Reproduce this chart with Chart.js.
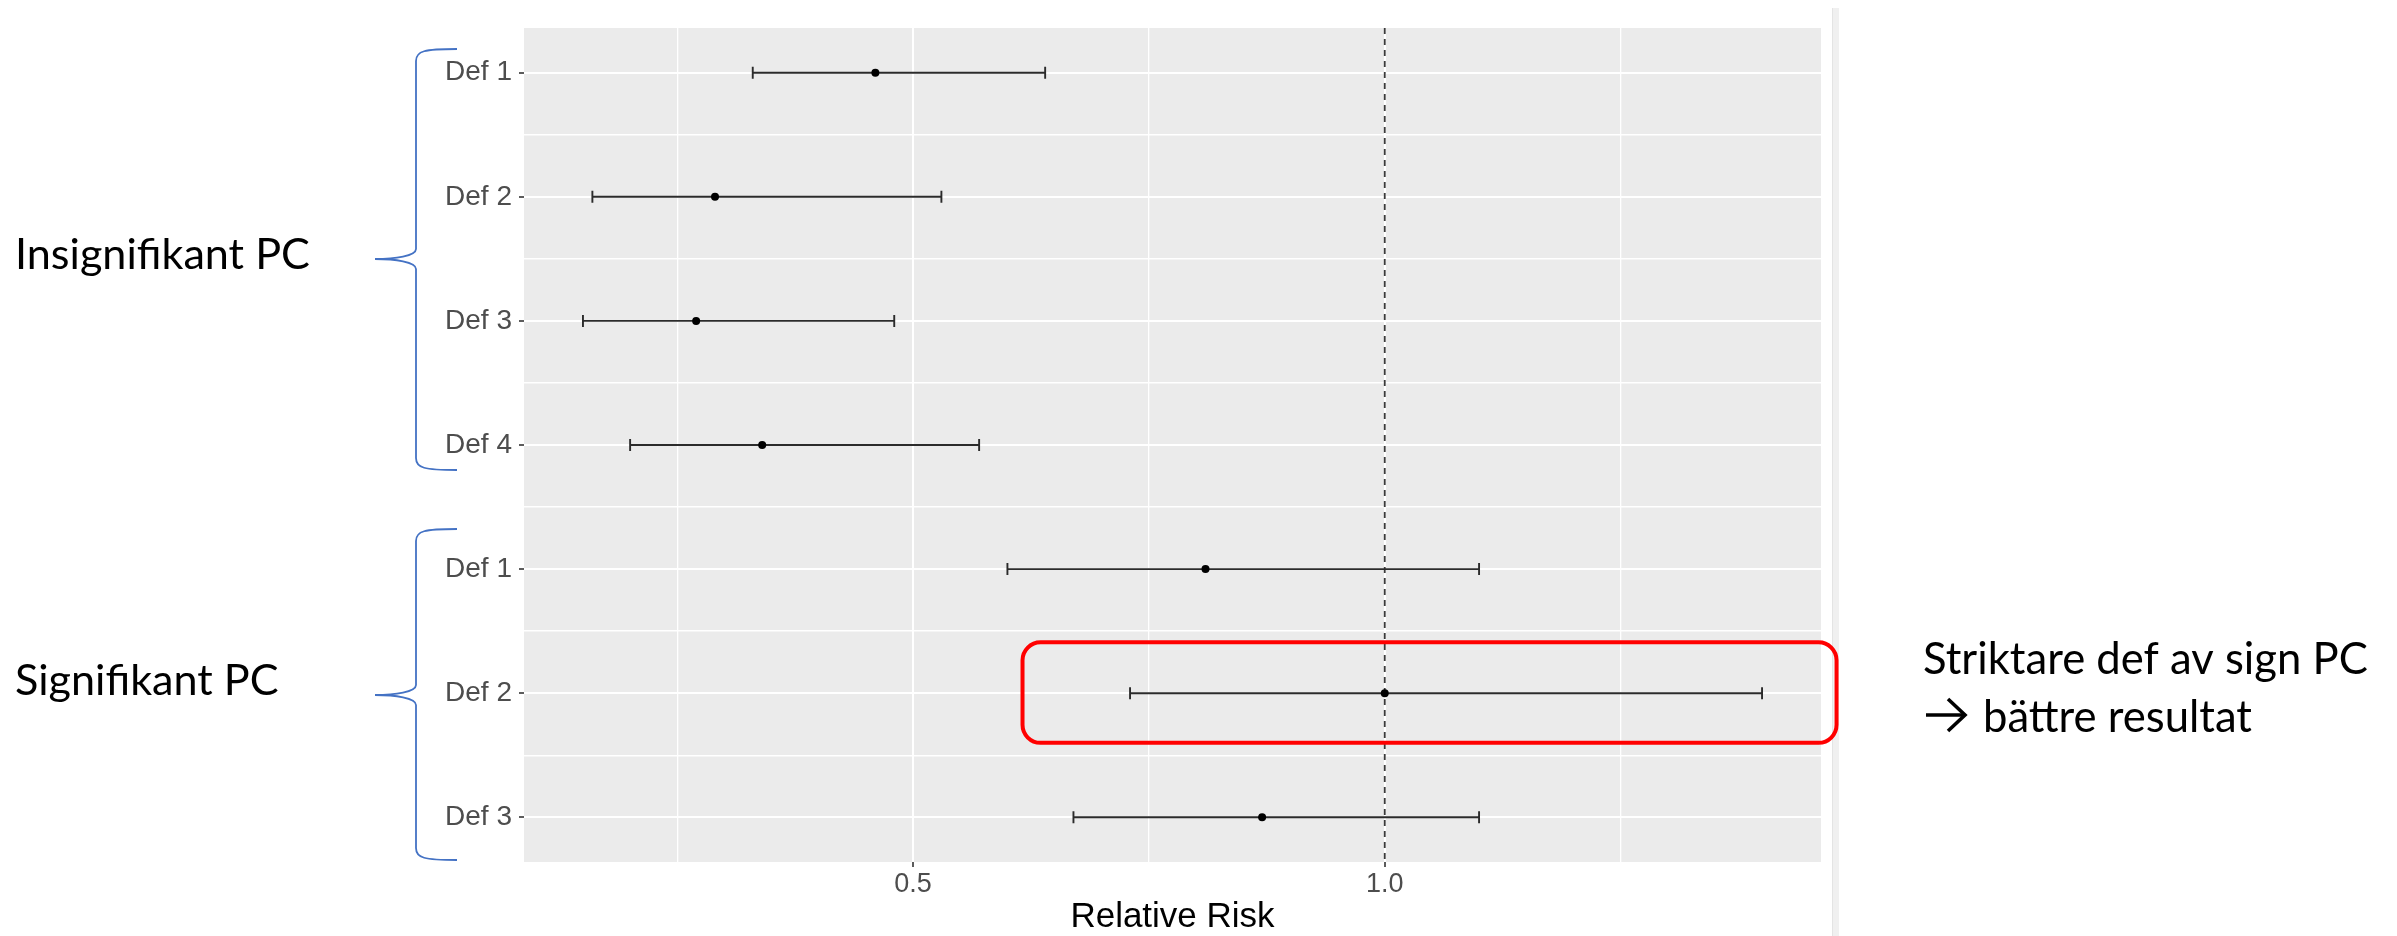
<!DOCTYPE html>
<html>
<head>
<meta charset="utf-8">
<script src="https://cdn.jsdelivr.net/npm/chart.js@4.4.1/dist/chart.umd.min.js"></script>
<style>
  html, body { margin: 0; padding: 0; background: #ffffff; }
  #wrap { width: 2397px; height: 936px; position: relative; }
  canvas { display: block; }
</style>
</head>
<body>
<div id="wrap"><canvas id="c" width="2397" height="936"></canvas></div>
<script>
// ---- data ----
const categories = ['Def 1', 'Def 2', 'Def 3', 'Def 4', 'Def 1', 'Def 2', 'Def 3'];
const estimates  = [0.46, 0.29, 0.27, 0.34, 0.81, 1.00, 0.87];
const lowerCI    = [0.33, 0.16, 0.15, 0.20, 0.60, 0.73, 0.67];
const upperCI    = [0.64, 0.53, 0.48, 0.57, 1.10, 1.40, 1.10];
const xMajorTicks = [0.5, 1.0];
const xMinorTicks = [0.25, 0.75, 1.25];
const refValue = 1.0;
const groupLabels = ['Insignifikant PC', 'Signifikant PC'];
const noteLines = ['Striktare def av sign PC', 'bättre resultat'];
const highlightIndex = 5;

// ---- derived scale range (ggplot-like 5% expansion) ----
const dMin = Math.min(...lowerCI), dMax = Math.max(...upperCI);
const xExp = (dMax - dMin) * 0.05;
const X_MIN = dMin - xExp, X_MAX = dMax + xExp;
const Y_PAD = 0.36;

const FONT = "'Liberation Sans', Arial, sans-serif";
const ANN_FONT = "Lato, 'Open Sans', sans-serif";

const panelBg = {
  id: 'panelBg',
  beforeDraw(chart) {
    const { ctx, chartArea: a } = chart;
    ctx.save();
    ctx.fillStyle = '#EBEBEB';
    ctx.fillRect(a.left, a.top, a.right - a.left, a.bottom - a.top);
    ctx.restore();
  }
};

const errorBars = {
  id: 'errorBars',
  beforeDatasetsDraw(chart) {
    const { ctx, chartArea: a, scales: { x, y } } = chart;
    ctx.save();
    // reference dashed line
    const rx = x.getPixelForValue(refValue);
    ctx.strokeStyle = '#3a3a3a';
    ctx.lineWidth = 1.8;
    ctx.setLineDash([6, 5]);
    ctx.beginPath();
    ctx.moveTo(rx, a.top);
    ctx.lineTo(rx, a.bottom);
    ctx.stroke();
    ctx.setLineDash([]);
    // CI bars
    ctx.strokeStyle = '#2b2b2b';
    ctx.lineWidth = 1.9;
    lowerCI.forEach((lo, i) => {
      const yy = y.getPixelForValue(i);
      const x0 = x.getPixelForValue(lo);
      const x1 = x.getPixelForValue(upperCI[i]);
      ctx.beginPath();
      ctx.moveTo(x0, yy); ctx.lineTo(x1, yy);
      ctx.moveTo(x0, yy - 6); ctx.lineTo(x0, yy + 6);
      ctx.moveTo(x1, yy - 6); ctx.lineTo(x1, yy + 6);
      ctx.stroke();
    });
    ctx.restore();
  }
};

function fitFont(ctx, text, targetWidth, family) {
  ctx.font = '100px ' + family;
  const w = ctx.measureText(text).width;
  return 100 * targetWidth / w;
}

function drawBrace(ctx, xTip, xLine, xEnd, yTop, yMid, yBot) {
  ctx.beginPath();
  ctx.moveTo(xEnd, yTop);
  ctx.bezierCurveTo(xLine + 8, yTop, xLine, yTop + 2, xLine, yTop + 12);
  ctx.lineTo(xLine, yMid - 10);
  ctx.bezierCurveTo(xLine, yMid - 3, xTip + 20, yMid, xTip, yMid);
  ctx.bezierCurveTo(xTip + 20, yMid, xLine, yMid + 3, xLine, yMid + 10);
  ctx.lineTo(xLine, yBot - 12);
  ctx.bezierCurveTo(xLine, yBot - 2, xLine + 8, yBot, xEnd, yBot);
  ctx.stroke();
}

const annotations = {
  id: 'annotations',
  afterDraw(chart) {
    const { ctx, scales: { x, y } } = chart;
    ctx.save();
    // right-hand light border of the plot image
    ctx.fillStyle = '#F0F0F0';
    ctx.fillRect(1833, 8, 6, 928);
    ctx.fillStyle = '#E4E4E4';
    ctx.fillRect(1832, 8, 1, 928);

    // braces
    ctx.strokeStyle = '#4472C4';
    ctx.lineWidth = 1.8;
    drawBrace(ctx, 375, 416, 457, 49, 259, 470);
    drawBrace(ctx, 375, 416, 457, 529, 695, 860);

    // group labels
    ctx.fillStyle = '#000';
    ctx.textBaseline = 'alphabetic';
    ctx.textAlign = 'left';
    const leftSize = fitFont(ctx, groupLabels[0], 295, ANN_FONT);
    ctx.font = leftSize.toFixed(2) + 'px ' + ANN_FONT;
    ctx.fillText(groupLabels[0], 15, 269);
    ctx.fillText(groupLabels[1], 15, 695);

    // highlight box around the highlighted row
    const bx0 = x.getPixelForValue(0.616);
    const bx1 = x.getPixelForValue(1.479);
    const by0 = y.getPixelForValue(highlightIndex - 0.41);
    const by1 = y.getPixelForValue(highlightIndex + 0.40);
    ctx.strokeStyle = '#FF0000';
    ctx.lineWidth = 4;
    ctx.beginPath();
    ctx.roundRect(bx0, by0, bx1 - bx0, by1 - by0, 18);
    ctx.stroke();

    // note text
    const rightSize = fitFont(ctx, noteLines[0], 445, ANN_FONT);
    ctx.font = rightSize.toFixed(2) + 'px ' + ANN_FONT;
    ctx.fillStyle = '#000';
    ctx.fillText(noteLines[0], 1923, 674);
    ctx.fillText(noteLines[1], 1983, 732);
    // arrow
    ctx.strokeStyle = '#000';
    ctx.lineWidth = 3.6;
    ctx.lineCap = 'butt';
    ctx.lineJoin = 'miter';
    ctx.beginPath();
    ctx.moveTo(1926, 715); ctx.lineTo(1963, 715);
    ctx.stroke();
    ctx.beginPath();
    ctx.moveTo(1948, 699); ctx.lineTo(1965, 715); ctx.lineTo(1948, 731);
    ctx.stroke();
    ctx.restore();
  }
};

const xTickValues = [...xMinorTicks, ...xMajorTicks].sort((a, b) => a - b);
const yTickValues = [];
for (let v = 0; v <= categories.length - 1 + 1e-9; v += 0.5) yTickValues.push(v);

new Chart(document.getElementById('c'), {
  type: 'scatter',
  data: {
    datasets: [{
      data: estimates.map((v, i) => ({ x: v, y: i })),
      pointRadius: 4,
      pointBackgroundColor: '#000',
      pointBorderColor: '#000',
      pointBorderWidth: 0,
      showLine: false
    }]
  },
  options: {
    responsive: false,
    animation: false,
    devicePixelRatio: 1,
    layout: { padding: { left: 0, top: 28, right: 576, bottom: 0 } },
    plugins: { legend: { display: false }, tooltip: { enabled: false } },
    scales: {
      x: {
        type: 'linear',
        min: X_MIN,
        max: X_MAX,
        afterBuildTicks: s => { s.ticks = xTickValues.map(v => ({ value: v })); },
        afterFit: s => { s.height = 74; },
        border: { display: false },
        grid: {
          color: '#FFFFFF',
          lineWidth: c => (c.tick && xMajorTicks.includes(c.tick.value)) ? 2 : 1.3,
          drawTicks: true,
          tickLength: 5,
          tickWidth: 1.6,
          tickColor: c => (c.tick && xMajorTicks.includes(c.tick.value)) ? '#333333' : 'rgba(0,0,0,0)'
        },
        ticks: {
          autoSkip: false,
          maxRotation: 0,
          padding: 1,
          color: '#4D4D4D',
          font: { family: FONT, size: 27 },
          callback: v => xMajorTicks.includes(v) ? v.toFixed(1) : ''
        },
        title: {
          display: true,
          text: 'Relative Risk',
          color: '#000000',
          font: { family: FONT, size: 35, lineHeight: 1 },
          padding: { top: 0, bottom: 1 }
        }
      },
      y: {
        type: 'linear',
        reverse: true,
        min: -Y_PAD,
        max: categories.length - 1 + Y_PAD,
        afterBuildTicks: s => { s.ticks = yTickValues.map(v => ({ value: v })); },
        afterFit: s => { s.width = 524; },
        border: { display: false },
        grid: {
          color: '#FFFFFF',
          lineWidth: c => (c.tick && Number.isInteger(c.tick.value)) ? 2 : 1.5,
          drawTicks: true,
          tickLength: 5,
          tickWidth: 1.6,
          tickColor: c => (c.tick && Number.isInteger(c.tick.value)) ? '#333333' : 'rgba(0,0,0,0)'
        },
        ticks: {
          autoSkip: false,
          padding: 7,
          color: '#4D4D4D',
          font: { family: FONT, size: 28 },
          callback: v => Number.isInteger(v) ? categories[v] : ''
        }
      }
    }
  },
  plugins: [panelBg, errorBars, annotations]
});
</script>
</body>
</html>
